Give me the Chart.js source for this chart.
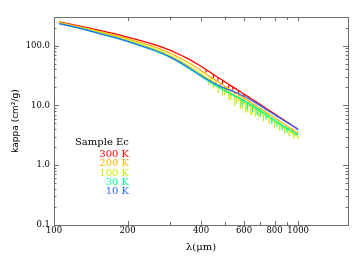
<!DOCTYPE html>
<html>
<head>
<meta charset="utf-8">
<script src="https://cdn.jsdelivr.net/npm/chart.js@4/dist/chart.umd.min.js"></script>
<style>
    html, body { margin: 0; padding: 0; background: #fff; }
    #kappaChart { display: block; }
</style>
</head>
<body>
<canvas id="kappaChart" width="364" height="260"></canvas>
<script>
// Wavelength grid (micron), shared by all temperatures
const lambda = [105, 125, 140, 160, 180, 200, 225, 250, 275, 300, 330, 360,
    400, 410, 420, 430, 440, 450, 460, 470, 480, 490, 500, 510, 520, 530, 540, 550,
    560, 570, 580, 590, 600, 610, 620, 630, 640, 650, 660, 670, 680, 690, 700,
    720, 740, 760, 780, 800, 820, 840, 860, 880, 900, 920, 940, 960, 980, 1000];

// Mass absorption coefficient kappa (cm2/g) per temperature
const kappa300K = [248, 215, 195, 172, 155, 138, 122, 108, 95, 83, 69.5, 58,
    45.0, 42.1, 39.5, 37.1, 34.9, 32.8, 31.0, 29.3, 27.8, 26.3, 24.9, 23.7, 22.5, 21.4, 20.4, 19.4,
    18.5, 17.7, 16.9, 16.1, 15.4, 14.8, 14.2, 13.6, 13.05, 12.5, 12.0, 11.55, 11.1, 10.7, 10.3,
    9.53, 8.87, 8.27, 7.72, 7.21, 6.75, 6.33, 5.95, 5.60, 5.27, 4.97, 4.70, 4.44, 4.21, 3.99];
const kappa200K = [243, 210, 188, 164, 146.5, 129, 113, 98.8, 86.0, 74.3, 61.2, 50.2,
    38.3, 35.6, 33.2, 31.2, 29.3, 27.6, 26.0, 24.6, 23.4, 22.1, 20.9, 19.9, 18.9, 18.0, 17.1, 16.3,
    15.9, 15.2, 14.5, 13.8, 13.2, 12.7, 12.2, 11.7, 11.2, 10.75, 10.3, 9.93, 9.55, 9.2, 8.86,
    8.2, 7.63, 7.11, 6.64, 6.2, 5.8, 5.44, 5.12, 4.82, 4.53, 4.27, 4.04, 3.82, 3.62, 3.43];
const kappa100K = [238, 204, 182, 158, 140, 123, 106, 91.8, 78.9, 67.2, 54.9, 44.7,
    33.8, 31.2, 29.2, 27.5, 25.8, 24.3, 22.9, 21.7, 20.6, 19.5, 18.4, 17.5, 16.7, 15.8, 15.1, 14.4,
    14.2, 13.6, 13.0, 12.4, 11.9, 11.4, 10.9, 10.5, 10.05, 9.6, 9.24, 8.9, 8.55, 8.24, 7.93,
    7.15, 6.65, 6.2, 5.79, 5.41, 5.06, 4.75, 4.46, 4.2, 3.95, 3.73, 3.53, 3.33, 3.16, 2.99];
const kappa30K = [232, 198, 176, 151, 133, 117, 100, 86.4, 74.1, 63.1, 50.7, 40.6,
    30.6, 28.6, 26.9, 25.4, 23.9, 22.6, 21.4, 20.4, 19.5, 18.5, 17.7, 16.9, 16.2, 15.5, 15.0, 14.4,
    13.9, 13.5, 13.0, 12.5, 12.0, 11.5, 11.1, 10.7, 10.3, 9.9, 9.5, 9.2, 8.8, 8.56, 8.24,
    7.62, 7.1, 6.53, 6.1, 5.7, 5.33, 5.0, 4.7, 4.42, 4.16, 3.98, 3.76, 3.55, 3.37, 3.19];
const kappa10K = [233, 199, 176.5, 152, 134, 117.3, 101, 87.5, 75.0, 63.9, 51.8, 41.8,
    31.5, 29.5, 27.8, 26.3, 25.0, 23.6, 22.6, 21.7, 20.9, 20.0, 19.4, 18.7, 18.2, 17.8, 17.3, 16.7,
    16.2, 15.8, 15.2, 14.7, 14.2, 13.8, 13.3, 12.8, 12.3, 11.9, 11.4, 11.0, 10.6, 10.3, 9.9,
    9.15, 8.5, 7.98, 7.45, 7.0, 6.55, 6.17, 5.8, 5.49, 5.16, 4.9, 4.65, 4.4, 4.19, 3.85];

// narrow absorption dips: wavelength (on the grid) and the low value reached
const dipLambda300K = [420, 450, 470, 490, 520, 540, 570, 600];
const dipLow300K = [35.5, 28.2, 25.8, 22.6, 19.6, 18.0, 15.6, 13.9];
const dipLambda200K = [440, 460, 480, 500, 510, 530, 550, 570, 600, 630, 660, 700];
const dipLow200K = [24.0, 20.8, 18.7, 16.7, 16.3, 14.4, 12.7, 11.9, 10.6, 9.4, 8.4, 7.3];
const dipLambda100K = [430, 450, 470, 490, 500, 520, 530, 550, 560, 580, 590, 610, 620,
    640, 650, 670, 690, 720, 760, 800, 840, 880, 920, 960, 1000];
const dipLow100K = [22.0, 19.0, 16.3, 14.6, 14.7, 12.0, 12.3, 9.8, 10.7, 8.8, 8.9, 7.5, 7.8,
    6.8, 7.2, 6.4, 6.3, 5.4, 4.8, 4.2, 3.8, 3.36, 3.06, 2.73, 2.7];
const dipLambda30K = [590, 620, 650, 680, 700, 740, 780, 820, 860, 900];
const dipLow30K = [10.0, 8.7, 7.9, 7.0, 6.6, 5.8, 4.9, 4.4, 3.85, 3.5];
const dipLambda10K = [];
const dipLow10K = [];

const seriesLabels = ['300 K', '200 K', '100 K', '30 K', '10 K'];
const seriesValues = [kappa300K, kappa200K, kappa100K, kappa30K, kappa10K];
const seriesDipLambda = [dipLambda300K, dipLambda200K, dipLambda100K, dipLambda30K, dipLambda10K];
const seriesDipLow = [dipLow300K, dipLow200K, dipLow100K, dipLow30K, dipLow10K];
const seriesColors = ['#ff0000', '#ffb400', '#bff000', '#00ff96', '#2f68ff'];
const legendTitle = 'Sample Ec';

// Axis ticks
const xTickValues = [100, 200, 300, 400, 500, 600, 700, 800, 900, 1000];
const xTickLabels = ['100', '200', '', '400', '', '600', '', '800', '', '1000'];
const yTickValues = [0.1, 1, 10, 100];
const yTickLabels = ['0.1', '1.0', '10.0', '100.0'];

const AXIS_COLOR = '#6e6e6e';
const SERIF = '"DejaVu Serif", serif';

// draws the IDL style box: inward ticks on all four sides, plus the legend text
const boxPlugin = {
    id: 'idlBox',
    afterDraw(chart) {
        const ctx = chart.ctx;
        const area = chart.chartArea;
        const xs = chart.scales.x;
        const ys = chart.scales.y;

        ctx.save();
        ctx.strokeStyle = AXIS_COLOR;
        ctx.lineWidth = 1;
        ctx.strokeRect(Math.round(area.left) + 0.5, Math.round(area.top) + 0.5,
            Math.round(area.right - area.left), Math.round(area.bottom - area.top));

        ctx.beginPath();
        xTickValues.forEach((v, i) => {
            const px = Math.round(xs.getPixelForValue(v)) + 0.5;
            const len = xTickLabels[i] ? 4 : 3;
            ctx.moveTo(px, area.bottom); ctx.lineTo(px, area.bottom - len);
            ctx.moveTo(px, area.top); ctx.lineTo(px, area.top + len);
        });
        // log minor ticks 2..9 inside every decade of the y range
        for (let dec = 0.1; dec < 1000; dec *= 10) {
            for (let m = 1; m <= 9; m++) {
                const v = dec * m;
                if (v < ys.min || v > ys.max) continue;
                const py = Math.round(ys.getPixelForValue(v)) + 0.5;
                const len = m === 1 ? 5 : 2.5;
                ctx.moveTo(area.left, py); ctx.lineTo(area.left + len, py);
                ctx.moveTo(area.right, py); ctx.lineTo(area.right - len, py);
            }
        }
        ctx.stroke();

        // legend, right aligned entries under the title
        ctx.font = '10px ' + SERIF;
        ctx.textBaseline = 'middle';
        ctx.textAlign = 'left';
        ctx.fillStyle = '#000';
        ctx.fillText(legendTitle, area.left + 21, area.top + 125);
        ctx.textAlign = 'right';
        seriesLabels.forEach((lab, i) => {
            ctx.fillStyle = seriesColors[i];
            ctx.fillText(lab, area.left + 75, area.top + 137.5 + i * 9.25);
        });
        ctx.restore();
    }
};

const datasets = [];
seriesLabels.forEach((lab, i) => {
    const vals = seriesValues[i];
    datasets.push({
        label: lab,
        data: lambda.map((l, j) => ({ x: l, y: vals[j] })),
        borderColor: seriesColors[i],
        borderWidth: 1.3,
        pointRadius: 0,
        tension: 0,
        fill: false,
        order: seriesLabels.length - i   // 10 K drawn last, on top
    });
    // dips as thin vertical strokes hanging from the curve
    const dipPts = [];
    seriesDipLambda[i].forEach((l, k) => {
        const top = vals[lambda.indexOf(l)];
        dipPts.push({ x: l, y: top }, { x: l, y: seriesDipLow[i][k] }, { x: l, y: null });
    });
    datasets.push({
        label: lab + ' dips',
        data: dipPts,
        borderColor: seriesColors[i],
        borderWidth: 1.2,
        pointRadius: 0,
        spanGaps: false,
        fill: false,
        order: seriesLabels.length - i
    });
});

new Chart(document.getElementById('kappaChart'), {
    type: 'line',
    data: { datasets: datasets },
    plugins: [boxPlugin],
    options: {
        responsive: false,
        animation: false,
        devicePixelRatio: 1,
        layout: { padding: { left: 0, right: 16, top: 17, bottom: 0 } },
        plugins: { legend: { display: false }, tooltip: { enabled: false } },
        scales: {
            x: {
                type: 'logarithmic',
                min: 100,
                max: 1600,
                grid: { display: false, drawTicks: false },
                border: { display: false },
                afterBuildTicks: s => { s.ticks = xTickValues.map(v => ({ value: v })); },
                afterFit: s => { s.height = 35; },
                ticks: {
                    autoSkip: false,
                    maxRotation: 0,
                    padding: 1,
                    color: '#000',
                    font: { family: SERIF, size: 8.5 },
                    callback: (v, i) => xTickLabels[i]
                },
                title: {
                    display: true,
                    text: 'λ(μm)',
                    color: '#000',
                    font: { family: SERIF, size: 10 },
                    padding: { top: 0, bottom: 7 }
                }
            },
            y: {
                type: 'logarithmic',
                min: 0.1,
                max: 300,
                grid: { display: false, drawTicks: false },
                border: { display: false },
                afterBuildTicks: s => { s.ticks = yTickValues.map(v => ({ value: v })); },
                afterFit: s => { s.width = 54; },
                ticks: {
                    autoSkip: false,
                    padding: 4,
                    color: '#000',
                    font: { family: SERIF, size: 8.5 },
                    callback: (v, i) => yTickLabels[i]
                },
                title: {
                    display: true,
                    text: 'kappa (cm²/g)',
                    color: '#000',
                    font: { family: '"DejaVu Sans", sans-serif', size: 9 },
                    padding: { top: 10, bottom: 0 }
                }
            }
        }
    }
});
</script>
</body>
</html>
